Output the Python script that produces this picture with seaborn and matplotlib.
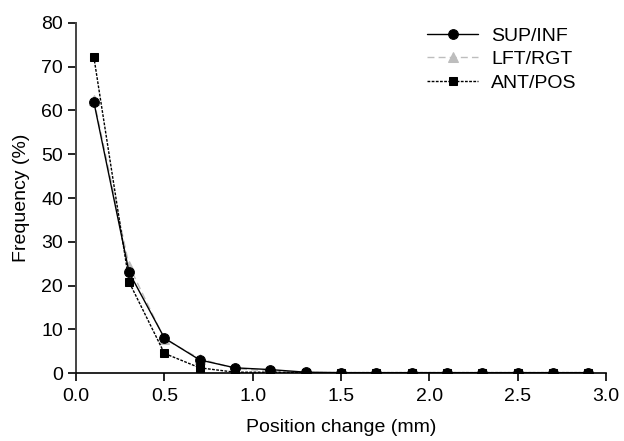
import matplotlib
matplotlib.use("Agg")
import matplotlib.pyplot as plt
import seaborn as sns
import pandas as pd

sns.set_style("ticks")
plt.rcParams["font.family"] = ["Liberation Sans", "DejaVu Sans"]
plt.rcParams["text.color"] = "black"
plt.rcParams["axes.labelcolor"] = "black"
plt.rcParams["xtick.color"] = "black"
plt.rcParams["ytick.color"] = "black"

position = [0.1, 0.3, 0.5, 0.7, 0.9, 1.1, 1.3, 1.5, 1.7, 1.9, 2.1, 2.3, 2.5, 2.7, 2.9]
sup_inf = [62.0, 23.0, 8.0, 3.0, 1.2, 0.8, 0.2, 0.1, 0.1, 0.1, 0.1, 0.1, 0.1, 0.1, 0.1]
lft_rgt = [62.5, 24.5, 7.8, 3.3, 1.0, 0.5, 0.1, 0.1, 0.1, 0.1, 0.1, 0.1, 0.1, 0.1, 0.1]
ant_pos = [72.3, 20.8, 4.5, 1.2, 0.2, 0.2, 0.1, 0.1, 0.1, 0.1, 0.1, 0.1, 0.1, 0.1, 0.1]

df = pd.DataFrame({"x": position * 3,
                   "y": sup_inf + lft_rgt + ant_pos,
                   "group": ["SUP/INF"] * 15 + ["LFT/RGT"] * 15 + ["ANT/POS"] * 15})

fig, ax = plt.subplots(figsize=(6.24, 4.41), dpi=100)
styles = {
    "SUP/INF": dict(color="black", ls="-", marker="o", ms=7, lw=1.0, zorder=3),
    "LFT/RGT": dict(color="#bdbdbd", ls=(0, (5, 3)), marker="^", ms=7, lw=1.0, zorder=2),
    "ANT/POS": dict(color="black", ls=(0, (2, 1)), marker="s", ms=6, lw=1.0, zorder=4),
}
for name in ["SUP/INF", "LFT/RGT", "ANT/POS"]:
    sub = df[df["group"] == name]
    st = styles[name]
    sns.lineplot(data=sub, x="x", y="y", ax=ax, label=name, color=st["color"],
                 linestyle=st["ls"], marker=st["marker"], markersize=st["ms"],
                 markeredgecolor=st["color"], linewidth=st["lw"], zorder=st["zorder"])

ax.set_xlim(0, 3.0)
ax.set_ylim(0, 80)
ax.set_xticks([0.0, 0.5, 1.0, 1.5, 2.0, 2.5, 3.0])
ax.set_xticklabels(["0.0", "0.5", "1.0", "1.5", "2.0", "2.5", "3.0"])
ax.set_yticks(range(0, 81, 10))
ax.set_xlabel("Position change (mm)", fontsize=14, labelpad=10)
ax.set_ylabel("Frequency (%)", fontsize=14, labelpad=8)
ax.tick_params(labelsize=14, direction="out", length=5.5, width=1.2)
ax.tick_params(axis="x", pad=5)
ax.tick_params(axis="y", pad=4)
ax.spines["left"].set_linewidth(1.4)
ax.spines["left"].set_color("#444444")
ax.spines["bottom"].set_linewidth(1.2)
ax.spines["bottom"].set_color("black")
sns.despine(ax=ax)
ax.legend(loc="upper right", frameon=False, fontsize=14, handlelength=2.6,
          labelspacing=0.3, borderaxespad=0.0, bbox_to_anchor=(0.96, 1.01),
          handletextpad=0.7)
for sp in ["left", "bottom"]:
    ax.spines[sp].set_clip_on(False)

fig.subplots_adjust(left=0.122, right=0.971, top=0.948, bottom=0.154)
fig.savefig("out.png", dpi=100)
